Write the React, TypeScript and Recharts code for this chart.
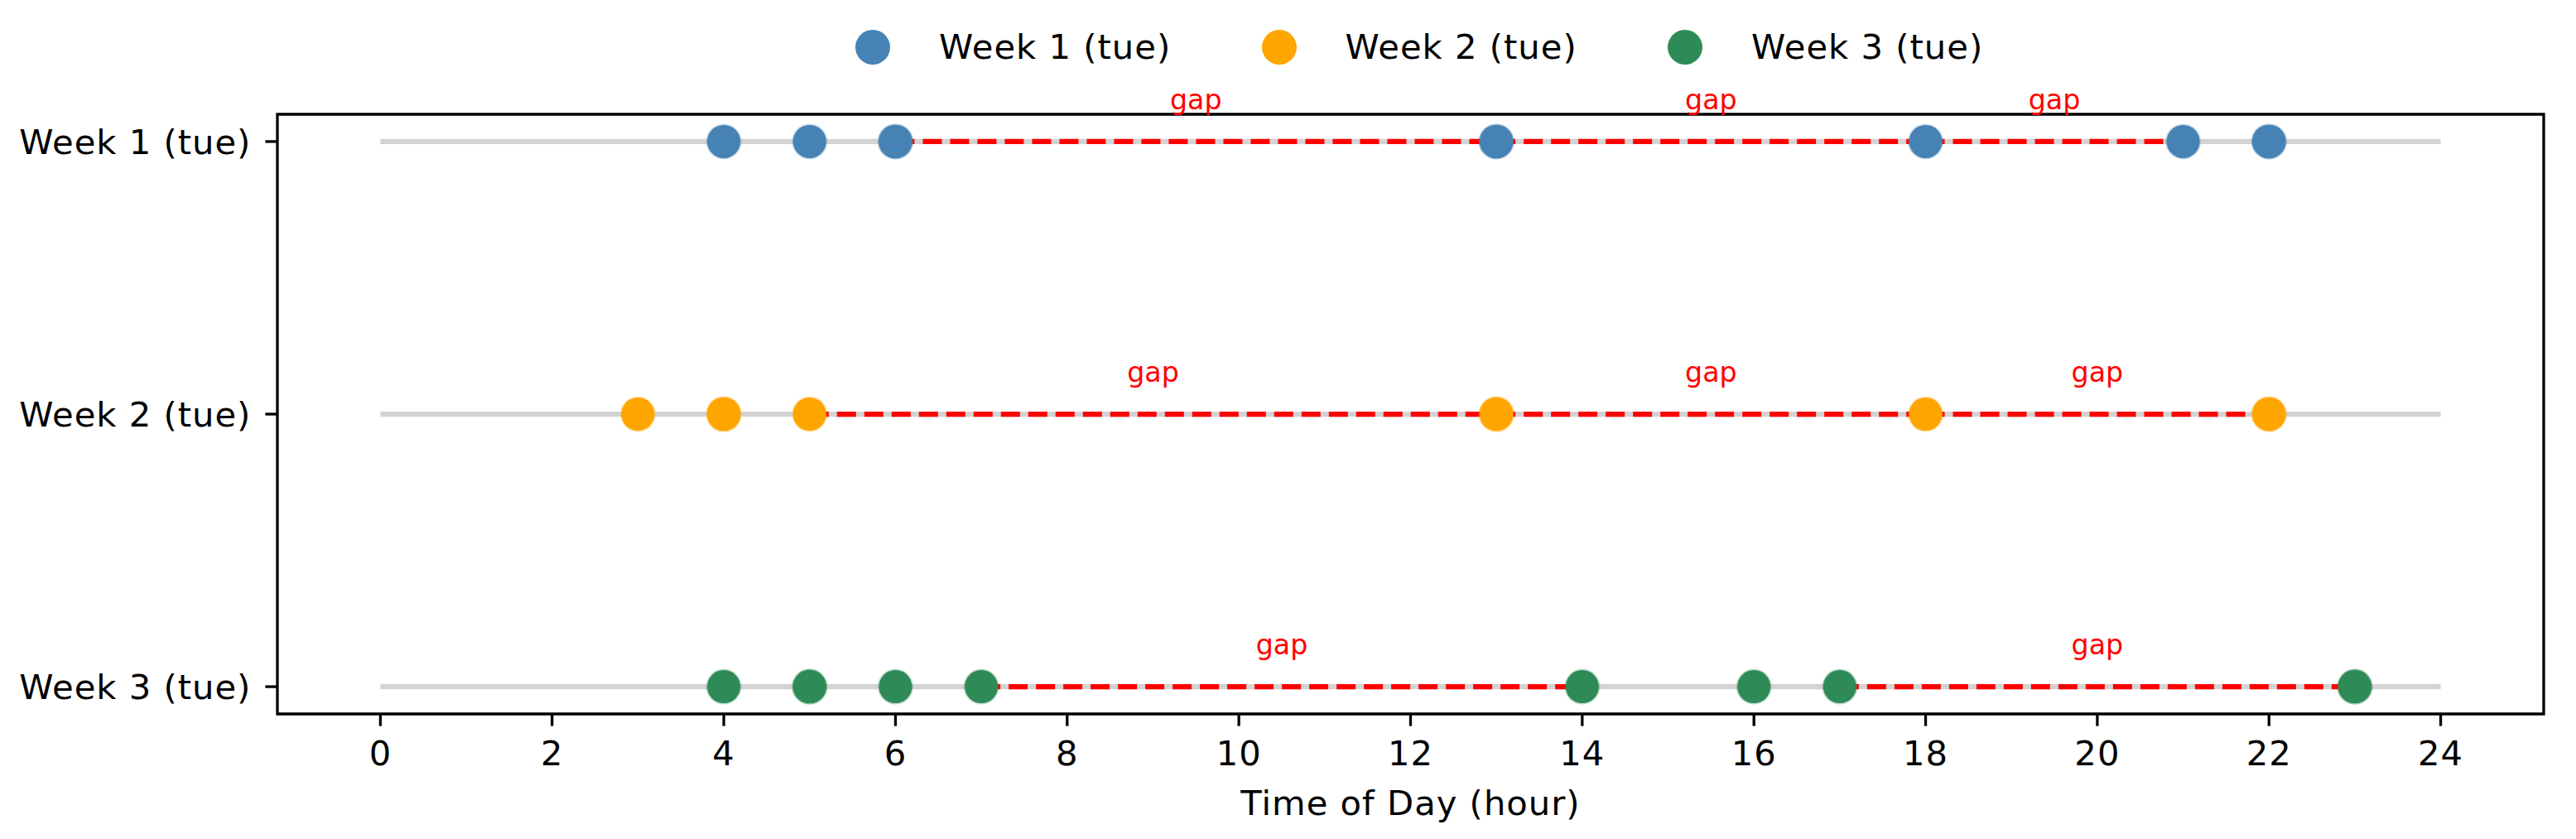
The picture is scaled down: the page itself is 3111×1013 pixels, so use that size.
import React from 'react';
import { ScatterChart, Scatter, XAxis, YAxis, ReferenceArea } from 'recharts';

// ---- data ----
const weekLabels = ['Week 1 (tue)', 'Week 2 (tue)', 'Week 3 (tue)'];
const weekColors = ['#4682b4', '#ffa500', '#2e8b57'];
const week1Hours = [4, 5, 6, 6, 13, 13, 18, 21, 22, 22];
const week2Hours = [3, 4, 4, 5, 13, 13, 18, 22, 22];
const week3Hours = [4, 5, 5, 6, 7, 14, 16, 17, 23, 23];
const weekHours = [week1Hours, week2Hours, week3Hours];
const dayRange = [0, 24];
const xTicks = [0, 2, 4, 6, 8, 10, 12, 14, 16, 18, 20, 22, 24];
const yTicks = [0, 1, 2];
const gapThreshold = 2;
const gapText = 'gap';

// ---- derived tables ----
const pointSeries = weekHours.map((hours, i) => hours.map((h) => ({ x: h, y: i })));
const baseSegments = weekHours.map((_, i) => dayRange.map((h) => ({ x: h, y: i })));
const gapSegments: { x: number; y: number }[][] = [];
const gapLabels: { x: number; y: number }[] = [];
weekHours.forEach((hours, i) => {
  const u = Array.from(new Set(hours)).sort((a, b) => a - b);
  for (let k = 1; k < u.length; k++) {
    if (u[k] - u[k - 1] > gapThreshold) {
      gapSegments.push([{ x: u[k - 1], y: i }, { x: u[k], y: i }]);
      gapLabels.push({ x: (u[k - 1] + u[k]) / 2, y: i });
    }
  }
});

const FONT = 'DejaVu Sans, sans-serif';
const W = 3111;
const H = 1013;
const LW = 6.25;
const AXW = 3.3;
const LS = 1;

const Nothing = () => <g />;

export default function App() {
  return (
    <div style={{ position: 'absolute', left: 0, top: 0, width: W, height: H, background: '#fff', fontFamily: FONT }}>
      <ScatterChart
        width={W}
        height={H}
        margin={{ top: 138, right: 39, bottom: 0, left: 0 }}
        style={{ fontFamily: FONT, overflow: 'visible' }}
      >
        <XAxis
          type="number"
          dataKey="x"
          domain={[-1.2, 25.2]}
          ticks={xTicks}
          interval={0}
          height={151}
          axisLine={false}
          tickLine={{ stroke: '#000', strokeWidth: AXW }}
          tickSize={14.6}
          tickMargin={18}
          tick={{ fill: '#000', fontSize: 41.7, fontFamily: FONT, letterSpacing: LS }}
          label={{ value: 'Time of Day (hour)', position: 'insideBottom', offset: 29, fill: '#000', fontSize: 41.7, fontFamily: FONT, letterSpacing: LS }}
        />
        <YAxis
          type="number"
          dataKey="y"
          domain={[-0.1, 2.1]}
          reversed
          ticks={yTicks}
          interval={0}
          width={335}
          axisLine={false}
          tickLine={{ stroke: '#000', strokeWidth: AXW }}
          tickSize={14.6}
          tickMargin={17}
          tickFormatter={(v: number) => weekLabels[v] ?? ''}
          tick={{ fill: '#000', fontSize: 41.7, fontFamily: FONT, letterSpacing: LS }}
        />
        {baseSegments.map((seg, i) => (
          <Scatter
            key={'base' + i}
            data={seg}
            line={{ stroke: '#d3d3d3', strokeWidth: LW }}
            shape={Nothing}
            isAnimationActive={false}
            legendType="none"
          />
        ))}
        {gapSegments.map((seg, i) => (
          <Scatter
            key={'gap' + i}
            data={seg}
            line={{ stroke: '#ff0000', strokeWidth: LW, strokeDasharray: '23 10' }}
            shape={Nothing}
            isAnimationActive={false}
            legendType="none"
          />
        ))}
        {pointSeries.map((pts, i) => (
          <Scatter
            key={'pts' + i}
            name={weekLabels[i]}
            data={pts}
            fill={weekColors[i]}
            isAnimationActive={false}
            shape={(p: any) => (
              <circle
                cx={p.cx}
                cy={p.cy}
                r={20}
                fill={weekColors[i]}
                stroke={weekColors[i]}
                strokeOpacity={0.3}
                strokeWidth={3}
              />
            )}
          />
        ))}
        <Scatter
          data={gapLabels}
          isAnimationActive={false}
          legendType="none"
          shape={(p: any) => (
            <text x={p.cx} y={p.cy - 39} textAnchor="middle" fill="#ff0000" fontSize={33.3} fontFamily={FONT}>
              {gapText}
            </text>
          )}
        />
        <ReferenceArea
          x1={-1.2}
          x2={25.2}
          y1={-0.1}
          y2={2.1}
          fill="none"
          fillOpacity={0}
          stroke="#000"
          strokeWidth={AXW}
          ifOverflow="visible"
        />
      </ScatterChart>
      <div
        style={{
          position: 'absolute',
          left: 1033,
          top: 27,
          height: 60,
          display: 'flex',
          alignItems: 'center',
          fontFamily: FONT,
          fontSize: 41.7,
          lineHeight: 1,
          letterSpacing: LS,
          color: '#000',
        }}
      >
        {weekLabels.map((lab, i) => (
          <div key={lab} style={{ width: 490.5, display: 'flex', alignItems: 'center' }}>
            <div style={{ width: 42, height: 42, borderRadius: '50%', background: weekColors[i] }} />
            <span style={{ marginLeft: 59, whiteSpace: 'nowrap' }}>{lab}</span>
          </div>
        ))}
      </div>
    </div>
  );
}
